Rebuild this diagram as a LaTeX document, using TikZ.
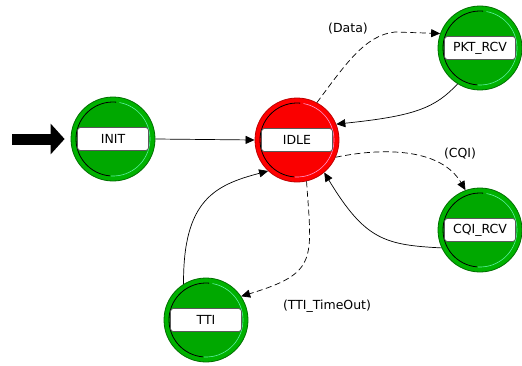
\documentclass[tikz,border=0pt]{standalone}
\usepackage{fontspec}
\setmainfont{DejaVu Sans}
\usetikzlibrary{arrows.meta}
\definecolor{gring}{RGB}{0,178,0}
\definecolor{gfill}{RGB}{0,168,0}
\definecolor{gedge}{RGB}{0,110,0}
\definecolor{ghi}{RGB}{90,240,160}
\definecolor{rring}{RGB}{255,0,0}
\definecolor{rfill}{RGB}{250,0,0}
\definecolor{redge}{RGB}{190,0,0}
\definecolor{rhi}{RGB}{255,150,205}
\tikzset{
  statecirc/.style={circle, minimum size=84pt, inner sep=0pt, line width=0.8pt},
  labelbox/.style={rectangle, rounded corners=3pt, fill=white, draw=black!65, line width=0.7pt,
     minimum width=71pt, minimum height=23pt, inner sep=1pt, font=\fontsize{12.5}{14}\selectfont},
  edgelabel/.style={font=\fontsize{12.5}{14}\selectfont, inner sep=0pt},
  conn/.style={line width=0.7pt, -{Triangle[length=9pt,width=8pt]}},
  dconn/.style={conn, dash pattern=on 6pt off 3.5pt},
}
\newcommand{\mkstate}[5]{%
  \node[statecirc, fill=#3ring, draw=#3edge] (#1) at (#2) {};
  \fill[#3fill] (#1.center) circle (37pt);
  \draw[black, line width=0.8pt] ([shift={(85:37pt)}]#1.center) arc (85:265:37pt);
  \draw[#3hi, line width=0.6pt] ([shift={(-93:37pt)}]#1.center) arc (-93:80:37pt);
  \node[labelbox] (#4) at (#2) {#5};
}
\begin{document}
\begin{tikzpicture}[x=1pt,y=1pt]
\useasboundingbox (0,0) rectangle (522,365);
\mkstate{init}{113,226}{g}{initbox}{INIT}
\mkstate{idle}{297,225}{r}{idlebox}{IDLE}
\mkstate{pkt}{480,317}{g}{pktbox}{PKT\_RCV}
\mkstate{cqi}{480,135}{g}{cqibox}{CQI\_RCV}
\mkstate{tti}{206,45}{g}{ttibox}{TTI}
% initial arrow
\coordinate (start) at (12,226);
\draw[line width=11pt, -{Triangle[length=14pt,width=30pt]}] (start) -- ([xshift=-6pt]init.west);
% transitions
\draw[conn] (init.east) -- (idle.west);
\draw[dconn] (idle.62) .. controls (345,300) and (365,330) .. (395,333) -- (pkt.160);
\node[edgelabel] (ldata) at (348,336) {(Data)};
\draw[conn] (pkt.238) .. controls (435,257) and (415,249) .. (idle.22);
\draw[dconn] (idle.-24) .. controls (380,217) and (440,218) .. (cqi.110);
\node[edgelabel] (lcqi) at (460,211) {(CQI)};
\draw[conn] (cqi.205) .. controls (385,120) and (365,125) .. (idle.-50);
\draw[dconn] (idle.-77) .. controls (312,105) and (318,92) .. (tti.34);
\node[edgelabel] (ltti) at (327,59) {(TTI\_TimeOut)};
\draw[conn] (tti.122) .. controls (183,165) and (215,180) .. (idle.227);
\end{tikzpicture}
\end{document}
